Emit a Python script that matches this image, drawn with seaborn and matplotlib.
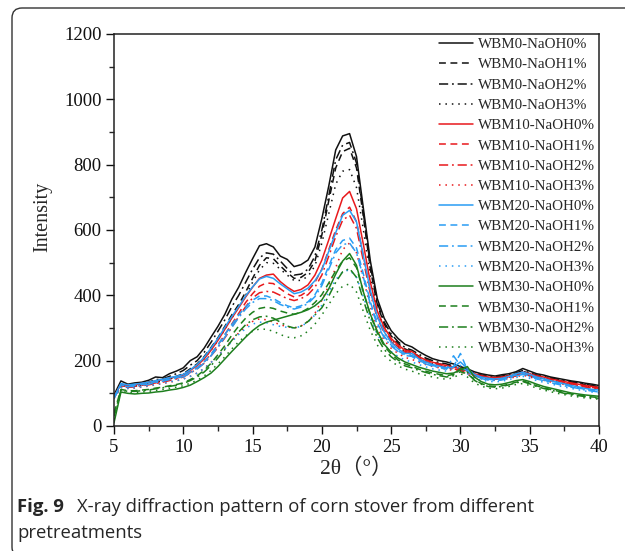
import numpy as np
import pandas as pd
import matplotlib
matplotlib.use("Agg")
import matplotlib.pyplot as plt
from matplotlib.patches import FancyBboxPatch
from matplotlib.transforms import IdentityTransform
from matplotlib.ticker import MultipleLocator
import seaborn as sns

# 2θ grid (degrees), 0.5° steps from 5 to 40
two_theta = np.arange(5.0, 40.01, 0.5)

# XRD intensities (counts), one list per pretreatment
wbm0_naoh0 = [95, 138, 128, 132, 134, 140, 150, 148, 160, 168,
              178, 200, 212, 238, 272, 305, 342, 388, 425, 470,
              512, 552, 558, 548, 520, 510, 488, 494, 508, 548,
              635, 735, 845, 888, 895, 825, 665, 505, 390, 330,
              292, 268, 250, 242, 228, 216, 206, 200, 196, 190,
              182, 175, 166, 160, 156, 153, 157, 160, 166, 176,
              168, 160, 156, 150, 146, 142, 138, 135, 131, 128,
              124]
wbm0_naoh1 = [90, 125, 120, 122, 126, 130, 136, 140, 146, 152,
              160, 175, 190, 212, 240, 270, 305, 340, 372, 410,
              452, 492, 515, 512, 490, 470, 452, 455, 470, 505,
              585, 690, 790, 840, 850, 790, 640, 480, 372, 312,
              276, 252, 236, 226, 214, 204, 195, 190, 186, 180,
              175, 168, 160, 154, 150, 148, 150, 155, 160, 168,
              160, 154, 150, 145, 140, 137, 133, 130, 126, 122,
              118]
wbm0_naoh2 = [92, 128, 124, 126, 130, 134, 142, 144, 152, 160,
              170, 186, 200, 225, 256, 290, 325, 365, 400, 440,
              480, 515, 530, 526, 505, 482, 462, 465, 480, 520,
              600, 705, 815, 860, 868, 805, 650, 490, 378, 318,
              282, 258, 240, 232, 220, 208, 200, 194, 190, 184,
              178, 170, 162, 156, 152, 150, 153, 157, 162, 170,
              163, 156, 152, 147, 143, 139, 135, 132, 128, 124,
              120]
wbm0_naoh3 = [88, 122, 118, 120, 124, 128, 134, 138, 144, 150,
              158, 172, 186, 206, 232, 262, 296, 330, 364, 400,
              440, 478, 500, 498, 480, 462, 445, 446, 458, 490,
              560, 650, 740, 780, 785, 730, 600, 455, 355, 300,
              266, 244, 228, 220, 208, 198, 190, 185, 181, 176,
              170, 164, 156, 150, 147, 145, 147, 151, 156, 163,
              156, 150, 146, 141, 137, 133, 130, 127, 123, 119,
              116]
wbm10_naoh0 = [90, 128, 124, 126, 130, 133, 138, 142, 147, 150,
               156, 170, 185, 205, 232, 262, 296, 330, 362, 395,
               425, 452, 462, 465, 442, 425, 412, 418, 432, 462,
               508, 570, 635, 698, 718, 665, 555, 440, 352, 302,
               268, 248, 232, 228, 212, 202, 195, 190, 185, 180,
               176, 168, 160, 154, 150, 148, 150, 154, 158, 165,
               160, 154, 150, 144, 140, 136, 132, 128, 124, 121,
               118]
wbm10_naoh1 = [88, 124, 120, 122, 125, 128, 132, 136, 142, 146,
               152, 164, 178, 196, 220, 248, 280, 312, 345, 378,
               405, 428, 438, 436, 420, 405, 395, 400, 414, 440,
               480, 540, 600, 650, 670, 625, 520, 415, 338, 292,
               262, 242, 228, 224, 208, 198, 190, 186, 182, 177,
               172, 164, 156, 150, 147, 145, 147, 151, 155, 162,
               156, 150, 146, 141, 137, 133, 129, 125, 121, 118,
               115]
wbm10_naoh2 = [86, 122, 118, 120, 123, 126, 130, 134, 139, 144,
               150, 162, 175, 192, 215, 240, 270, 302, 335, 365,
               392, 408, 412, 410, 400, 390, 384, 390, 402, 425,
               462, 520, 580, 630, 645, 605, 505, 405, 330, 286,
               258, 238, 225, 220, 205, 196, 188, 184, 180, 175,
               170, 162, 154, 148, 145, 143, 145, 149, 153, 160,
               154, 148, 144, 139, 135, 131, 127, 123, 119, 116,
               113]
wbm10_naoh3 = [84, 118, 115, 116, 119, 122, 126, 130, 134, 138,
               144, 152, 162, 176, 195, 215, 238, 262, 285, 305,
               320, 328, 325, 318, 310, 304, 300, 306, 320, 345,
               385, 430, 485, 540, 560, 530, 450, 365, 300, 262,
               238, 222, 210, 204, 195, 188, 182, 178, 174, 170,
               166, 158, 150, 145, 142, 140, 142, 146, 150, 156,
               150, 144, 140, 135, 131, 127, 123, 120, 116, 113,
               110]
wbm20_naoh0 = [88, 130, 126, 128, 131, 134, 139, 143, 148, 152,
               158, 172, 188, 210, 238, 268, 302, 335, 366, 398,
               426, 450, 458, 452, 435, 420, 405, 410, 422, 445,
               478, 535, 592, 645, 660, 625, 520, 415, 335, 288,
               256, 236, 222, 222, 205, 196, 188, 183, 178, 180,
               196, 176, 158, 150, 146, 144, 146, 152, 160, 165,
               158, 150, 145, 139, 134, 129, 124, 120, 115, 112,
               110]
wbm20_naoh1 = [86, 126, 122, 124, 127, 130, 135, 139, 144, 148,
               153, 165, 178, 196, 220, 248, 280, 310, 340, 365,
               385, 398, 398, 390, 378, 368, 362, 368, 380, 402,
               438, 490, 540, 568, 575, 545, 465, 380, 315, 275,
               248, 230, 218, 216, 200, 192, 185, 180, 176, 182,
               222, 172, 154, 147, 143, 141, 143, 149, 156, 160,
               153, 146, 141, 135, 130, 125, 121, 117, 112, 109,
               106]
wbm20_naoh2 = [85, 124, 120, 122, 125, 128, 133, 137, 142, 146,
               151, 162, 175, 192, 215, 242, 272, 302, 332, 358,
               378, 390, 390, 384, 372, 364, 358, 364, 375, 396,
               430, 480, 530, 555, 560, 530, 455, 372, 310, 270,
               245, 228, 216, 213, 198, 190, 183, 178, 174, 215,
               185, 168, 152, 145, 141, 139, 141, 147, 153, 158,
               151, 144, 139, 133, 128, 123, 119, 115, 110, 107,
               104]
wbm20_naoh3 = [84, 118, 115, 117, 120, 123, 127, 131, 135, 139,
               144, 152, 162, 176, 194, 214, 236, 258, 280, 298,
               312, 318, 316, 310, 305, 302, 300, 305, 318, 340,
               370, 410, 448, 472, 478, 455, 395, 330, 280, 248,
               228, 213, 202, 196, 188, 181, 175, 171, 168, 176,
               180, 160, 146, 140, 137, 135, 137, 142, 148, 152,
               146, 139, 134, 129, 124, 119, 115, 111, 107, 104,
               101]
wbm30_naoh0 = [10, 104, 100, 98, 100, 101, 104, 106, 110, 113,
               118, 125, 136, 148, 162, 182, 205, 228, 250, 272,
               292, 308, 318, 324, 330, 336, 342, 348, 356, 368,
               386, 420, 465, 505, 528, 492, 410, 342, 290, 250,
               226, 208, 196, 188, 180, 174, 168, 164, 160, 162,
               172, 182, 150, 136, 128, 126, 128, 133, 139, 142,
               136, 128, 121, 116, 111, 106, 101, 98, 95, 93,
               91]
wbm30_naoh1 = [40, 112, 108, 108, 110, 112, 116, 119, 123, 127,
               132, 142, 154, 170, 192, 218, 246, 278, 306, 330,
               348, 360, 364, 360, 352, 346, 342, 348, 360, 378,
               402, 438, 475, 505, 515, 485, 410, 340, 285, 245,
               220, 202, 190, 183, 174, 168, 162, 158, 154, 158,
               166, 160, 142, 130, 123, 121, 123, 128, 134, 138,
               131, 123, 117, 112, 107, 102, 98, 95, 92, 89,
               87]
wbm30_naoh2 = [30, 110, 106, 106, 108, 110, 114, 117, 121, 125,
               130, 139, 150, 165, 185, 208, 234, 262, 288, 310,
               325, 334, 336, 330, 318, 306, 300, 306, 320, 340,
               362, 398, 440, 472, 482, 455, 385, 320, 270, 234,
               212, 196, 184, 178, 170, 164, 158, 154, 150, 154,
               176, 165, 140, 128, 121, 119, 121, 126, 132, 136,
               129, 121, 115, 110, 105, 100, 96, 93, 90, 87,
               85]
wbm30_naoh3 = [20, 106, 102, 102, 104, 106, 109, 112, 115, 119,
               123, 131, 140, 153, 170, 190, 212, 236, 258, 276,
               290, 297, 296, 290, 280, 272, 270, 276, 290, 312,
               340, 372, 405, 428, 435, 410, 350, 292, 248, 216,
               198, 184, 174, 168, 160, 155, 150, 146, 143, 148,
               160, 150, 132, 122, 116, 114, 116, 121, 127, 130,
               124, 116, 110, 105, 100, 96, 92, 89, 86, 84,
               82]

labels = ["WBM0-NaOH0%", "WBM0-NaOH1%", "WBM0-NaOH2%", "WBM0-NaOH3%",
          "WBM10-NaOH0%", "WBM10-NaOH1%", "WBM10-NaOH2%", "WBM10-NaOH3%",
          "WBM20-NaOH0%", "WBM20-NaOH1%", "WBM20-NaOH2%", "WBM20-NaOH3%",
          "WBM30-NaOH0%", "WBM30-NaOH1%", "WBM30-NaOH2%", "WBM30-NaOH3%"]
series = [wbm0_naoh0, wbm0_naoh1, wbm0_naoh2, wbm0_naoh3,
          wbm10_naoh0, wbm10_naoh1, wbm10_naoh2, wbm10_naoh3,
          wbm20_naoh0, wbm20_naoh1, wbm20_naoh2, wbm20_naoh3,
          wbm30_naoh0, wbm30_naoh1, wbm30_naoh2, wbm30_naoh3]

df = pd.concat(
    [pd.DataFrame({"two_theta": two_theta, "intensity": vals, "sample": lab})
     for lab, vals in zip(labels, series)],
    ignore_index=True)

# colour per WBM level, dash pattern per NaOH level
wbm_colors = ["#111111", "#e8191c", "#2a9df4", "#1d7f1d"]
naoh_dashes = ["", (4.5, 3.0), (6.0, 2.5, 1.2, 2.5), (1.0, 3.2)]
palette = {lab: wbm_colors[i // 4] for i, lab in enumerate(labels)}
dashes = {lab: naoh_dashes[i % 4] for i, lab in enumerate(labels)}

sns.set_style("ticks")
plt.rcParams["font.family"] = ["Liberation Serif", "Noto Sans CJK SC"]

fig = plt.figure(figsize=(6.25, 5.51), dpi=100)
ax = fig.add_axes([114 / 625, 125 / 551, 485 / 625, 392 / 551])

sns.lineplot(data=df, x="two_theta", y="intensity", hue="sample",
             style="sample", palette=palette, dashes=dashes,
             hue_order=labels, style_order=labels,
             linewidth=1.1, estimator=None, ax=ax)

ax.set_xlim(5, 40)
ax.set_ylim(0, 1200)
ax.xaxis.set_major_locator(MultipleLocator(5))
ax.xaxis.set_minor_locator(MultipleLocator(2.5))
ax.yaxis.set_major_locator(MultipleLocator(200))
ax.yaxis.set_minor_locator(MultipleLocator(100))
ax.tick_params(which="major", direction="out", length=6, width=1.0,
               labelsize=13.5, colors="#111111", pad=3)
ax.tick_params(which="minor", direction="out", length=3.5, width=1.0)
for side in ["top", "right", "left", "bottom"]:
    ax.spines[side].set_visible(True)
    ax.spines[side].set_linewidth(1.1)
    ax.spines[side].set_color("#222222")

ax.set_xlabel("2θ（°）", fontsize=15.5, labelpad=2)
ax.set_ylabel("Intensity", fontsize=14.5)
ax.yaxis.set_label_coords(-0.128, 0.534)

handles, leg_labels = ax.get_legend_handles_labels()
ax.legend(handles, leg_labels, loc="upper right", frameon=False,
          fontsize=10.8, handlelength=2.27, handletextpad=0.33,
          labelspacing=0.45, borderaxespad=0.0, borderpad=0.25)

# caption under the chart
fig.text(17 / 625, 1 - 507 / 551, "Fig. 9", fontsize=13.3, fontweight="bold",
         family="Open Sans", va="center", ha="left")
fig.text(77 / 625, 1 - 507 / 551,
         "X-ray diffraction pattern of corn stover from different",
         fontsize=13.3, family="Open Sans", va="center", ha="left")
fig.text(17 / 625, 1 - 533 / 551, "pretreatments", fontsize=13.3,
         family="Open Sans", va="center", ha="left")

# rounded frame around the figure panel
frame = FancyBboxPatch((12, -6), 640, 549,
                       boxstyle="round,pad=0,rounding_size=10",
                       transform=IdentityTransform(), facecolor="none",
                       edgecolor="#333333", linewidth=1.0)
fig.patches.append(frame)

fig.savefig("out.png", dpi=100)
